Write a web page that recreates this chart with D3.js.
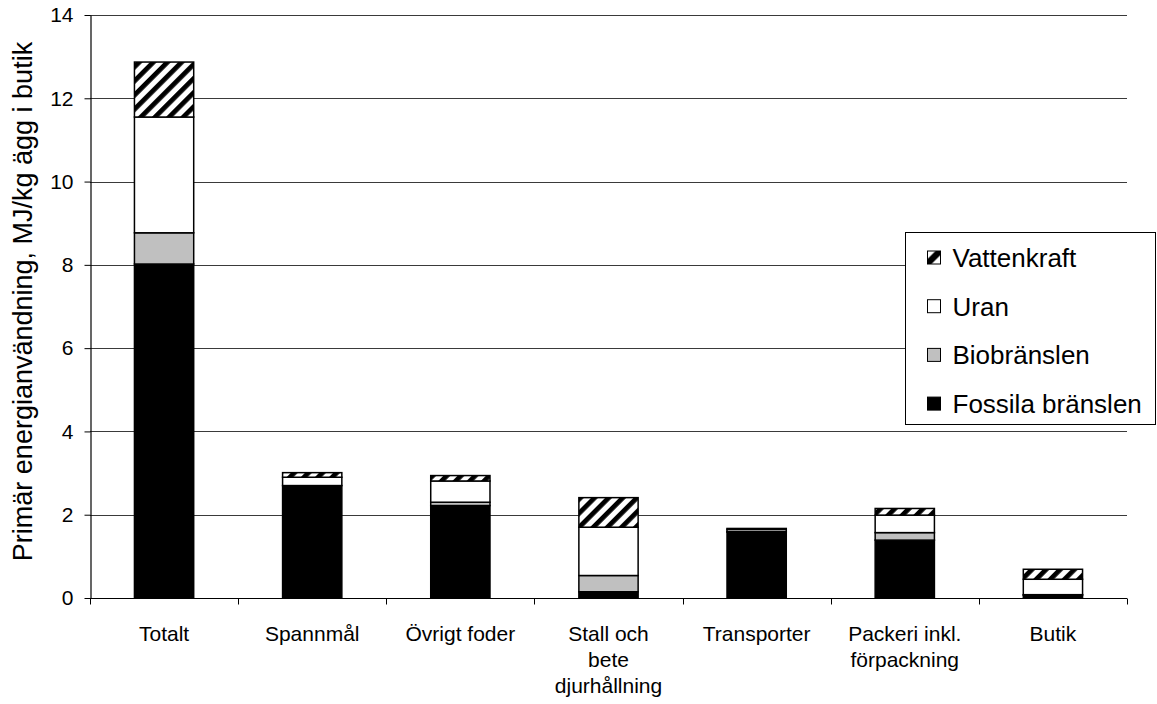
<!DOCTYPE html>
<html>
<head>
<meta charset="utf-8">
<script src="https://cdn.jsdelivr.net/npm/d3@7"></script>
<style>
  body { margin: 0; background: #fff; }
  svg { font-family: Arial, "Liberation Sans", sans-serif; }
</style>
</head>
<body>
<svg id="chart" width="1157" height="704"></svg>
<script>
// Primary energy use per kg eggs at retail, split by energy source
const categories = ["Totalt", "Spannmål", "Övrigt foder", "Stall och\nbete\ndjurhållning", "Transporter", "Packeri inkl.\nförpackning", "Butik"];
const fossila     = [8.02, 2.70, 2.22, 0.15, 1.58, 1.39, 0.07];
const biobranslen = [0.75, 0.00, 0.08, 0.39, 0.02, 0.18, 0.01];
const uran        = [2.78, 0.20, 0.51, 1.16, 0.05, 0.42, 0.37];
const vattenkraft = [1.32, 0.11, 0.13, 0.71, 0.02, 0.16, 0.24];
const seriesNames = ["Fossila bränslen", "Biobränslen", "Uran", "Vattenkraft"];
const yTicks = [0, 2, 4, 6, 8, 10, 12, 14];

const FONT = "Arial, 'Liberation Sans', sans-serif";
const svg = d3.select("#chart");
const margin = { left: 90, right: 30, top: 15, bottom: 106 };
const W = 1157, H = 704;
const x0 = margin.left, x1 = W - margin.right;   // 90 .. 1127
const y0 = H - margin.bottom, y1 = margin.top;   // 598 .. 15

const x = d3.scaleBand().domain(categories).range([x0, x1]).paddingInner(0).paddingOuter(0);
const y = d3.scaleLinear().domain([0, 14]).range([y0, y1]);

// hatch pattern for hydro power
const defs = svg.append("defs");
const pat = defs.append("pattern")
  .attr("id", "hatch")
  .attr("patternUnits", "userSpaceOnUse")
  .attr("width", 10).attr("height", 10)
  .attr("patternTransform", "rotate(45)");
pat.append("rect").attr("width", 10).attr("height", 10).attr("fill", "#fff");
pat.append("rect").attr("x", 0).attr("width", 4.8).attr("height", 10).attr("fill", "#000");

// legend swatch for hydro power
const patS = defs.append("pattern")
  .attr("id", "hatchS")
  .attr("patternUnits", "objectBoundingBox")
  .attr("width", 1).attr("height", 1);
patS.append("rect").attr("width", 13).attr("height", 13).attr("fill", "#fff");
patS.append("path").attr("d", "M0,13 L0,8 L8,0 L13,0 L13,4 L4,13 Z").attr("fill", "#000");

// gridlines
svg.append("g")
  .selectAll("line")
  .data(yTicks.filter(d => d > 0))
  .join("line")
  .attr("x1", x0).attr("x2", x1)
  .attr("y1", d => Math.round(y(d)) + 0.5).attr("y2", d => Math.round(y(d)) + 0.5)
  .attr("stroke", "#3a3a3a").attr("stroke-width", 1);

// stacked bars
const rows = categories.map((c, i) => ({
  cat: c,
  "Fossila bränslen": fossila[i],
  "Biobränslen": biobranslen[i],
  "Uran": uran[i],
  "Vattenkraft": vattenkraft[i]
}));
const stack = d3.stack().keys(seriesNames)(rows);
const fills = {
  "Fossila bränslen": "#000",
  "Biobränslen": "#c0c0c0",
  "Uran": "#fff",
  "Vattenkraft": "url(#hatch)"
};
const barW = x.bandwidth() * 0.4;

svg.append("g")
  .selectAll("g")
  .data(stack)
  .join("g")
  .attr("fill", d => fills[d.key])
  .selectAll("rect")
  .data(d => d.filter(s => s[1] - s[0] > 0))
  .join("rect")
  .attr("x", d => x(d.data.cat) + (x.bandwidth() - barW) / 2)
  .attr("width", barW)
  .attr("y", d => y(d[1]))
  .attr("height", d => y(d[0]) - y(d[1]))
  .attr("stroke", "#000")
  .attr("stroke-width", 1.5);

// y axis
const yAxis = svg.append("g")
  .attr("transform", `translate(${x0 + 0.5},0)`)
  .call(d3.axisLeft(y).tickValues(yTicks).tickSize(6).tickPadding(11).tickSizeOuter(0));
yAxis.attr("font-family", FONT).attr("font-size", 21);
yAxis.select(".domain").attr("stroke", "#000").attr("stroke-width", 1.2);
yAxis.selectAll(".tick line").attr("stroke", "#000");
yAxis.selectAll("text").attr("fill", "#000");

// x axis with ticks at category boundaries
const xAxisG = svg.append("g").attr("transform", `translate(0,${y0 + 0.5})`);
xAxisG.append("line").attr("x1", x0).attr("x2", x1).attr("y1", 0).attr("y2", 0)
  .attr("stroke", "#000").attr("stroke-width", 1.2);
xAxisG.selectAll("line.tk")
  .data(d3.range(categories.length + 1))
  .join("line")
  .attr("class", "tk")
  .attr("x1", i => Math.round(x0 + i * x.step()) + 0.5)
  .attr("x2", i => Math.round(x0 + i * x.step()) + 0.5)
  .attr("y1", 0).attr("y2", 6)
  .attr("stroke", "#000");

const labels = xAxisG.selectAll("text.cat")
  .data(categories)
  .join("text")
  .attr("class", "cat")
  .attr("text-anchor", "middle")
  .attr("font-size", 21)
  .attr("font-family", FONT)
  .attr("fill", "#000")
  .attr("x", d => x(d) + x.bandwidth() / 2)
  .attr("y", 42);
labels.each(function(d) {
  const t = d3.select(this);
  d.split("\n").forEach((line, i) => {
    t.append("tspan").attr("x", x(d) + x.bandwidth() / 2).attr("dy", i === 0 ? 0 : 26).text(line);
  });
});

// y axis title
svg.append("text")
  .attr("transform", `translate(32,${(y0 + y1) / 2 - 5}) rotate(-90)`)
  .attr("text-anchor", "middle")
  .attr("font-size", 27)
  .attr("font-family", FONT)
  .attr("fill", "#000")
  .text("Primär energianvändning, MJ/kg ägg i butik");

// legend
const legend = svg.append("g").attr("transform", "translate(905.5,232.5)");
legend.append("rect").attr("width", 250).attr("height", 192)
  .attr("fill", "#fff").attr("stroke", "#000").attr("stroke-width", 1);
const legendOrder = ["Vattenkraft", "Uran", "Biobränslen", "Fossila bränslen"];
const items = legend.selectAll("g.item")
  .data(legendOrder)
  .join("g")
  .attr("class", "item")
  .attr("transform", (d, i) => `translate(22,${25 + i * 48.7})`);
items.append("rect")
  .attr("x", 0).attr("y", -6.5).attr("width", 13).attr("height", 13)
  .attr("fill", d => d === "Vattenkraft" ? "url(#hatchS)" : fills[d])
  .attr("stroke", "#000").attr("stroke-width", 1);
items.append("text")
  .attr("x", 25).attr("y", 9.5)
  .attr("font-size", 26)
  .attr("font-family", FONT)
  .attr("fill", "#000")
  .text(d => d);
</script>
</body>
</html>
